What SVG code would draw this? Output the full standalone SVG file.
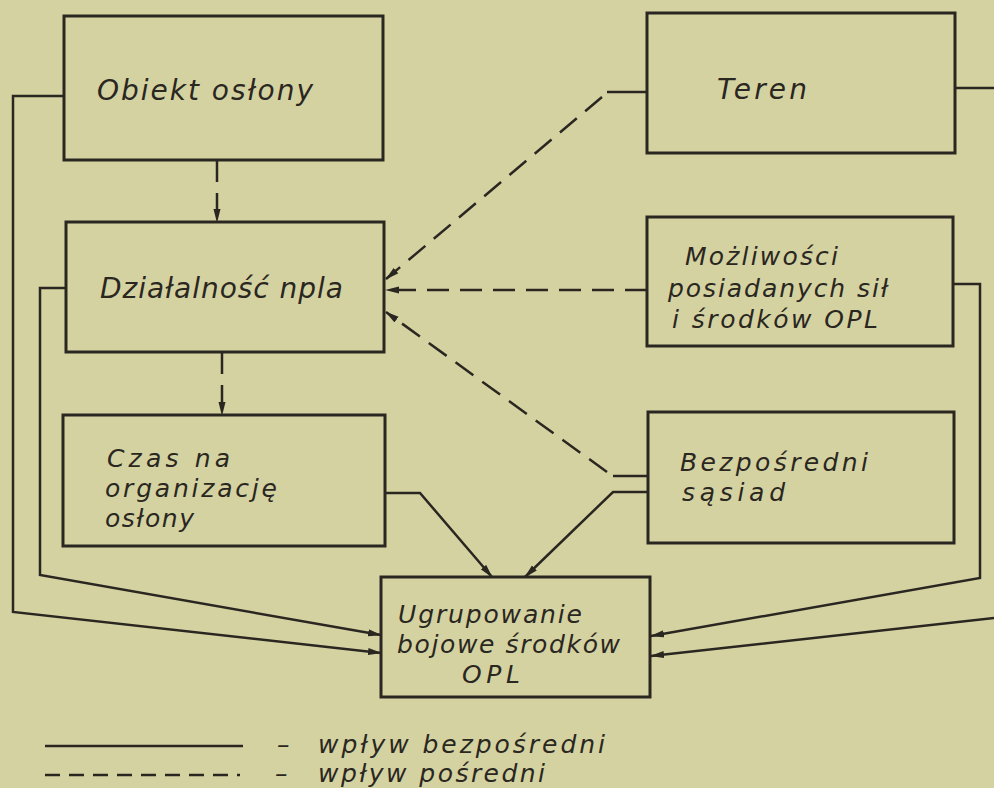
<svg xmlns="http://www.w3.org/2000/svg" width="994" height="788" viewBox="0 0 994 788">
  <defs>
    <marker id="arr" viewBox="0 0 14 8" refX="13" refY="4" markerWidth="14" markerHeight="8" markerUnits="userSpaceOnUse" orient="auto">
      <path d="M0,0.5 L14,4 L0,7.5 Z" fill="#2a2721"/>
    </marker>
    <style>
      .box { fill: none; stroke: #2a2721; stroke-width: 3; }
      .t { font-family: "DejaVu Sans", "Liberation Sans", sans-serif; font-style: italic; font-size: 28px; fill: #2a2721; }
      .m { font-size: 25px; }
      .solid { fill: none; stroke: #2a2721; stroke-width: 2.5; stroke-linejoin: miter; }
      .dash { fill: none; stroke: #2a2721; stroke-width: 2.5; stroke-dasharray: 22 11; }
      .arrow { marker-end: url(#arr); }
    </style>
  </defs>
  <rect x="0" y="0" width="994" height="788" fill="#d5d2a2"/>

  <g id="connectors">
    <!-- Obiekt -> Działalność -->
    <path class="dash arrow" d="M217,160 L217,222"/>
    <!-- Działalność -> Czas -->
    <path class="dash arrow" d="M222,352 L222,415"/>
    <!-- Teren -> Działalność -->
    <path class="solid" d="M647,92 L607,92"/>
    <path class="dash arrow" d="M602,97 L386,279"/>
    <!-- Możliwości -> Działalność -->
    <path class="dash arrow" d="M647,290 L386,290"/>
    <!-- Bezpośredni -> Działalność -->
    <path class="solid" d="M648,476 L613,476"/>
    <path class="dash arrow" d="M607,472 L386,312"/>
    <!-- Bezpośredni -> Ugrupowanie -->
    <path class="solid arrow" d="M648,492 L613,492 L525,577"/>
    <!-- Czas -> Ugrupowanie -->
    <path class="solid arrow" d="M385,493 L420,493 L492,577"/>
    <!-- Działalność -> Ugrupowanie -->
    <path class="solid arrow" d="M66,288 L40,288 L40,575 L381,635"/>
    <!-- Obiekt -> Ugrupowanie -->
    <path class="solid arrow" d="M64,96 L13,96 L13,612 L381,653"/>
    <!-- Możliwości -> Ugrupowanie -->
    <path class="solid arrow" d="M953,284 L980,284 L980,578 L651,636"/>
    <!-- Teren -> Ugrupowanie -->
    <path class="solid arrow" d="M955,88 L1002,88 L1002,617 L651,656"/>
  </g>

  <g id="obiekt">
    <rect class="box" x="64" y="16" width="319" height="144"/>
    <text class="t" x="97" y="100" textLength="216">Obiekt osłony</text>
  </g>
  <g id="teren">
    <rect class="box" x="647" y="13" width="308" height="140"/>
    <text class="t" x="717" y="99" textLength="90">Teren</text>
  </g>
  <g id="dzialalnosc">
    <rect class="box" x="66" y="222" width="318" height="130"/>
    <text class="t" x="100" y="298" textLength="243">Działalność npla</text>
  </g>
  <g id="mozliwosci">
    <rect class="box" x="647" y="217" width="306" height="129"/>
    <text class="t m" x="685" y="265" textLength="153">Możliwości</text>
    <text class="t m" x="668" y="297" textLength="220">posiadanych sił</text>
    <text class="t m" x="672" y="328" textLength="206">i środków OPL</text>
  </g>
  <g id="czas">
    <rect class="box" x="63" y="415" width="322" height="131"/>
    <text class="t m" x="107" y="467" textLength="123">Czas na</text>
    <text class="t m" x="105" y="497" textLength="172">organizację</text>
    <text class="t m" x="105" y="527" textLength="89">osłony</text>
  </g>
  <g id="sasiad">
    <rect class="box" x="648" y="412" width="306" height="131"/>
    <text class="t m" x="680" y="471" textLength="188">Bezpośredni</text>
    <text class="t m" x="682" y="501" textLength="103">sąsiad</text>
  </g>
  <g id="ugrupowanie">
    <rect class="box" x="381" y="577" width="269" height="120"/>
    <text class="t m" x="398" y="623" textLength="184">Ugrupowanie</text>
    <text class="t m" x="397" y="653" textLength="223">bojowe środków</text>
    <text class="t m" x="462" y="683" textLength="58">OPL</text>
  </g>

  <g id="legend">
    <path class="solid" d="M45,746 L243,746"/>
    <path fill="none" stroke="#2a2721" stroke-width="2.5" stroke-dasharray="15 9" d="M45,775 L240,775"/>
    <text class="t m" x="277" y="753">–</text>
    <text class="t m" x="318" y="753" textLength="287">wpływ bezpośredni</text>
    <text class="t m" x="275" y="782">–</text>
    <text class="t m" x="318" y="782" textLength="227">wpływ pośredni</text>
  </g>
</svg>
